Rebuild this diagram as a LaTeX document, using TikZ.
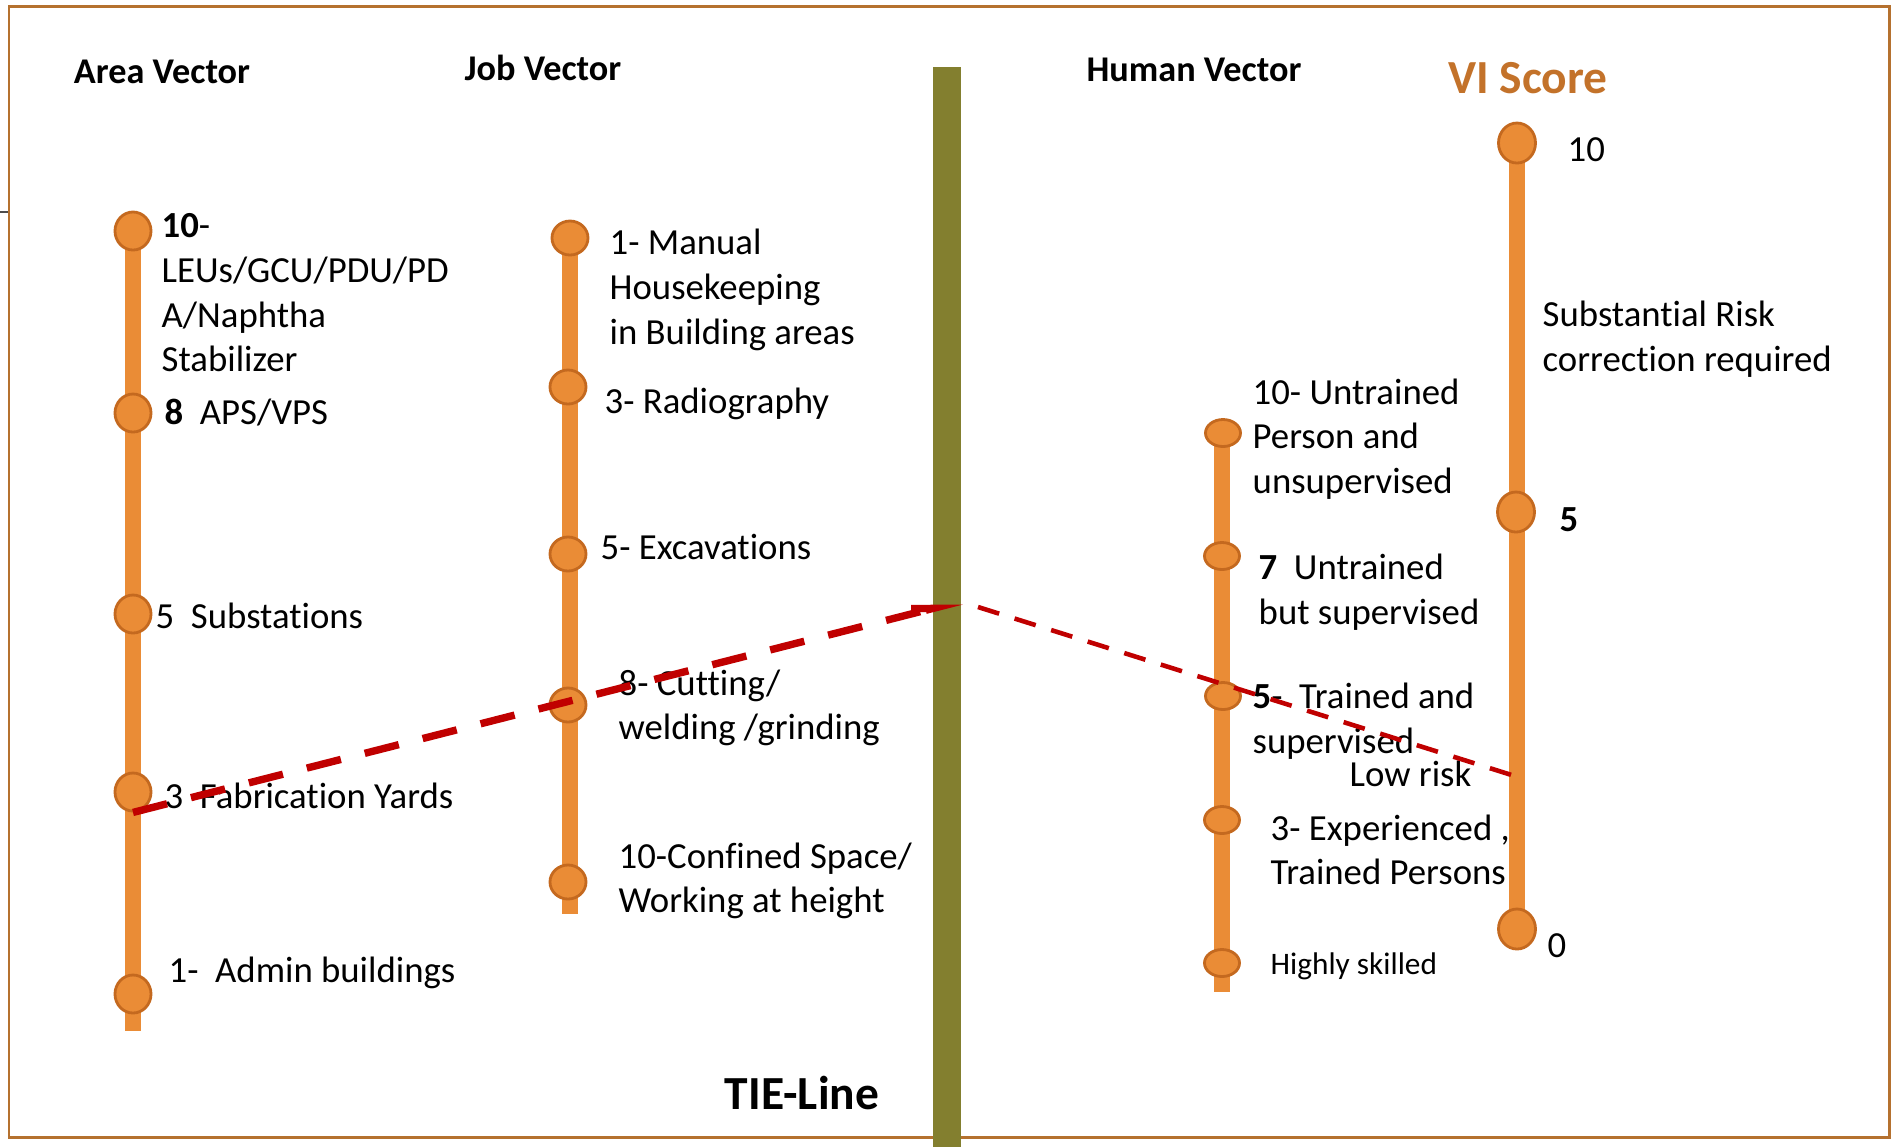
\documentclass[tikz,border=0pt]{standalone}
\usepackage{fontspec}
\setmainfont[Ligatures=NoCommon]{Carlito}
\usetikzlibrary{shapes.geometric,arrows.meta}
\definecolor{vecorange}{RGB}{234,140,54}
\definecolor{dotrim}{RGB}{196,105,31}
\definecolor{tieolive}{RGB}{131,127,47}
\definecolor{framebrown}{RGB}{181,113,47}
\definecolor{scorebrown}{RGB}{195,114,42}
\definecolor{tiered}{RGB}{192,0,0}

\begin{document}
\begin{tikzpicture}[
  x=0.01cm, y=-0.01cm,
  dot/.style={ellipse,draw=dotrim,fill=vecorange,line width=0.8pt,inner sep=0pt},
  areadot/.style={dot,minimum width=0.36cm,minimum height=0.38cm},
  jobdot/.style={dot,minimum width=0.36cm,minimum height=0.34cm},
  humandot/.style={dot,minimum width=0.35cm,minimum height=0.27cm},
  scoredot/.style={dot,minimum width=0.37cm,minimum height=0.40cm},
  ]
  \tikzset{%
    txt/.style={
      anchor=west,
      inner sep=0pt,
      align=left,
      font=\fontsize{10.45pt}{12.7pt}\selectfont,
    },
    head/.style={inner sep=0pt,font=\bfseries\fontsize{10.3pt}{12.7pt}\selectfont},
    bighead/.style={inner sep=0pt,font=\bfseries\fontsize{13.5pt}{16pt}\selectfont},
    vecline/.style={draw=vecorange,line width=4.5pt},
    tieline/.style={draw=tiered,line width=2.1pt,dash pattern=on 10pt off 7pt},
    thinline/.style={draw=tiered,line width=1.3pt,dash pattern=on 6.3pt off 4.6pt},
  }
  \useasboundingbox (0,0) rectangle (1893,1147);
  %Frame
  \draw[framebrown,line width=0.85pt] (9,6) rectangle (1889,1137);
  \draw[gray!60!black,line width=0.6pt] (0,212) -- (8,212);
  %Vectors
  \coordinate (atop) at (133,231);  \coordinate (abot) at (133,1031);
  \coordinate (jtop) at (570,238);  \coordinate (jbot) at (570,914);
  \coordinate (htop) at (1222,433); \coordinate (hbot) at (1222,992);
  \coordinate (stop) at (1517,143); \coordinate (sbot) at (1517,929);
  \draw[vecline] (atop) -- (abot);
  \draw[vecline] (jtop) -- (jbot);
  \draw[vecline] (htop) -- (hbot);
  \draw[vecline] (stop) -- (sbot);
  %Nodes
  \node[areadot] (a10) at (133,231) {};
  \node[areadot] (a8) at (133,413) {};
  \node[areadot] (a5) at (133,614) {};
  \node[areadot] (a3) at (133,792) {};
  \node[areadot] (a1) at (133,994) {};
  \node[jobdot] (j1) at (570,238) {};
  \node[jobdot] (j3) at (568,387) {};
  \node[jobdot] (j5) at (568,554) {};
  \node[jobdot] (j8) at (568,705) {};
  \node[jobdot] (j10) at (568,882) {};
  \node[humandot] (h10) at (1223,433) {};
  \node[humandot] (h7) at (1222,556) {};
  \node[humandot] (h5) at (1223,696) {};
  \node[humandot] (h3) at (1222,820) {};
  \node[humandot] (h1) at (1222,963) {};
  \node[scoredot] (s10) at (1517,143) {};
  \node[scoredot] (s5) at (1516,512) {};
  \node[scoredot] (s0) at (1517,929) {};
  %TIE-Line
  \fill[tieolive] (933,67) rectangle (961,1147);
  \coordinate (tie) at (962,601);
  \coordinate (tieout) at (978,607);
  \coordinate (vilow) at (1518,777);
  %Titles
  \node[head] (areahead) at (162,72) {Area Vector};
  \node[head] (jobhead) at (543,68) {Job Vector};
  \node[head] (humanhead) at (1194,70) {Human Vector};
  \node[bighead,text=scorebrown] (scorehead) at (1528,78) {VI Score};
  \node[bighead] (tiehead) at (802,1093) {TIE-Line};
  %Labels
  \node[txt] (la10) at (161,293) {\textbf{10}-\\LEUs/GCU/PDU/PD\\A/Naphtha\\Stabilizer};
  \node[txt] (la8) at (164,413) {\textbf{8}\ \ APS/VPS};
  \node[txt] (la5) at (155,616) {5\ \ Substations};
  \node[txt] (la3) at (164,796) {3\ \ Fabrication Yards};
  \node[txt] (la1) at (168,973) {1-\ \ Admin buildings};
  \node[txt] (lj1) at (609,290) {1- Manual\\Housekeeping\\in Building areas};
  \node[txt] (lj3) at (604,404) {3- Radiography};
  \node[txt] (lj5) at (600,547) {5- Excavations};
  \node[txt] (lj8) at (618,708) {8- Cutting/\\welding /grinding};
  \node[txt] (lj10) at (618,881) {10-Confined Space/\\Working at height};
  \node[txt] (lh10) at (1252,439) {10- Untrained\\Person and\\unsupervised};
  \node[txt] (lh7) at (1258,592) {\textbf{7}\ \ Untrained\\but supervised};
  \node[txt] (lh5) at (1252,721) {\textbf{5}-\ \ Trained and\\supervised};
  \node[txt] (lh3) at (1270,850) {3- Experienced ,\\Trained Persons};
  \node[txt,font=\fontsize{8.9pt}{11pt}\selectfont] (lh1) at (1270,966) {Highly skilled};
  \node[txt] (ls10) at (1567,150) {10};
  \node[txt] (lsub) at (1542,339) {Substantial Risk\\correction required};
  \node[txt] (ls5) at (1559,520) {\textbf{5}};
  \node[txt] (ls0) at (1547,946) {0};
  \node[txt] (llow) at (1349,774) {Low risk};
  %Lines
  \draw[tieline,-{Straight Barb[harpoon,length=6pt,width=3pt]}] (a3.south) -- (tie);
  \draw[thinline] (tieout) -- (vilow);
\end{tikzpicture}
\end{document}
